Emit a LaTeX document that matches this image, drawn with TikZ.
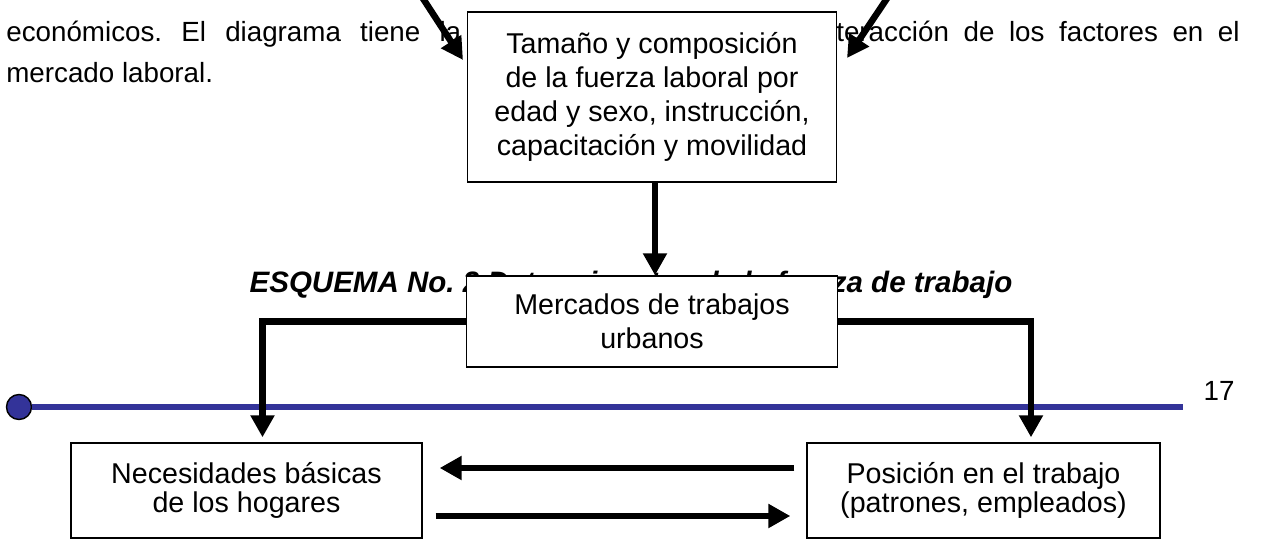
\documentclass[tikz,border=0pt]{standalone}
\usepackage{fontspec}
\setmainfont{Liberation Sans}
\usetikzlibrary{arrows.meta}
\usetikzlibrary{positioning}

\definecolor{lineBlue}{HTML}{333399}
\frenchspacing

\begin{document}
\begin{tikzpicture}[x=0.02cm, y=-0.02cm]
\tikzset{
    thisBox/.style={
                   draw,
                   fill=white,
                   line width=0.8pt,
                   align=center,
                   inner sep=0pt,
                   font=\fontsize{16.3}{19.3}\selectfont
    },
    lowBox/.style={
                   thisBox,
                   font=\fontsize{16.3}{16.7}\selectfont
    },
    thisArrow/.style={
                   -{Triangle[length=12.5pt,width=13pt]},
                   line width=3.7pt
    },
    bodyText/.style={
                   inner sep=0pt,
                   anchor=base west,
                   font=\fontsize{15.8}{18}\selectfont
    }
}
\useasboundingbox (0,0) rectangle (1277,540);

    % texto del documento
    \node (linea1)[bodyText] at (6,42) {\makebox[9.1cm][s]{económicos. El diagrama tiene la}};
    \node (linea1b)[bodyText, anchor=base east] at (1240,42) {\makebox[8.5cm][s]{interacción de los factores en el}};
    \node (linea2)[bodyText] at (6,83) {mercado laboral.};
    \node (titulo)[anchor=base, inner sep=0pt, font=\fontsize{16.8}{19}\selectfont\bfseries\itshape] at (631,293) {ESQUEMA No. 2 Determinantes de la fuerza de trabajo};
    \node (pagina)[bodyText, anchor=base] at (1219,400) {17};

    % linea azul
    \node (punto)[circle, draw, fill=lineBlue, line width=0.8pt, inner sep=0pt, minimum size=0.5cm] at (19,407) {};
    \coordinate (finLinea) at (1183,407);
    \draw[lineBlue, line width=3.3pt] (punto) -- (finLinea);

    % cajas
    \node (fuerza)[thisBox, minimum width=7.38cm, minimum height=3.4cm] at (652,97) {Tamaño y composición\\de la fuerza laboral por\\edad y sexo, instrucción,\\capacitación y movilidad};
    \node (mercados)[thisBox, minimum width=7.42cm, minimum height=1.82cm] at (652,321.5) {Mercados de trabajos\\urbanos};
    \node (necesidades)[lowBox, minimum width=7.02cm, minimum height=1.9cm] at (246.5,490.5) {Necesidades básicas\\de los hogares};
    \node (posicion)[lowBox, minimum width=7.06cm, minimum height=1.9cm] at (983.5,490.5) {Posición en el trabajo\\(patrones, empleados)};

    \coordinate (izq) at (422,-3);
    \coordinate (izqFin) at (463,60);
    \coordinate (der) at (888,-3);
    \coordinate (derFin) at (847,58);

    \draw[thisArrow] (izq) -- (izqFin);
    \draw[thisArrow] (der) -- (derFin);
    \draw[thisArrow] ([xshift=0.06cm]fuerza.south) -- ([xshift=0.06cm]mercados.north);
    \draw[thisArrow, shorten >=0.1cm] (mercados.west) -| ([xshift=0.32cm]necesidades.north);
    \draw[thisArrow, shorten >=0.1cm] (mercados.east) -| ([xshift=0.95cm]posicion.north);
    \draw[thisArrow, shorten <=0.24cm, shorten >=0.34cm] ([yshift=0.45cm]posicion.west) -- ([yshift=0.45cm]necesidades.east);
    \draw[thisArrow, shorten <=0.26cm, shorten >=0.32cm] ([yshift=-0.51cm]necesidades.east) -- ([yshift=-0.51cm]posicion.west);

\end{tikzpicture}
\end{document}
